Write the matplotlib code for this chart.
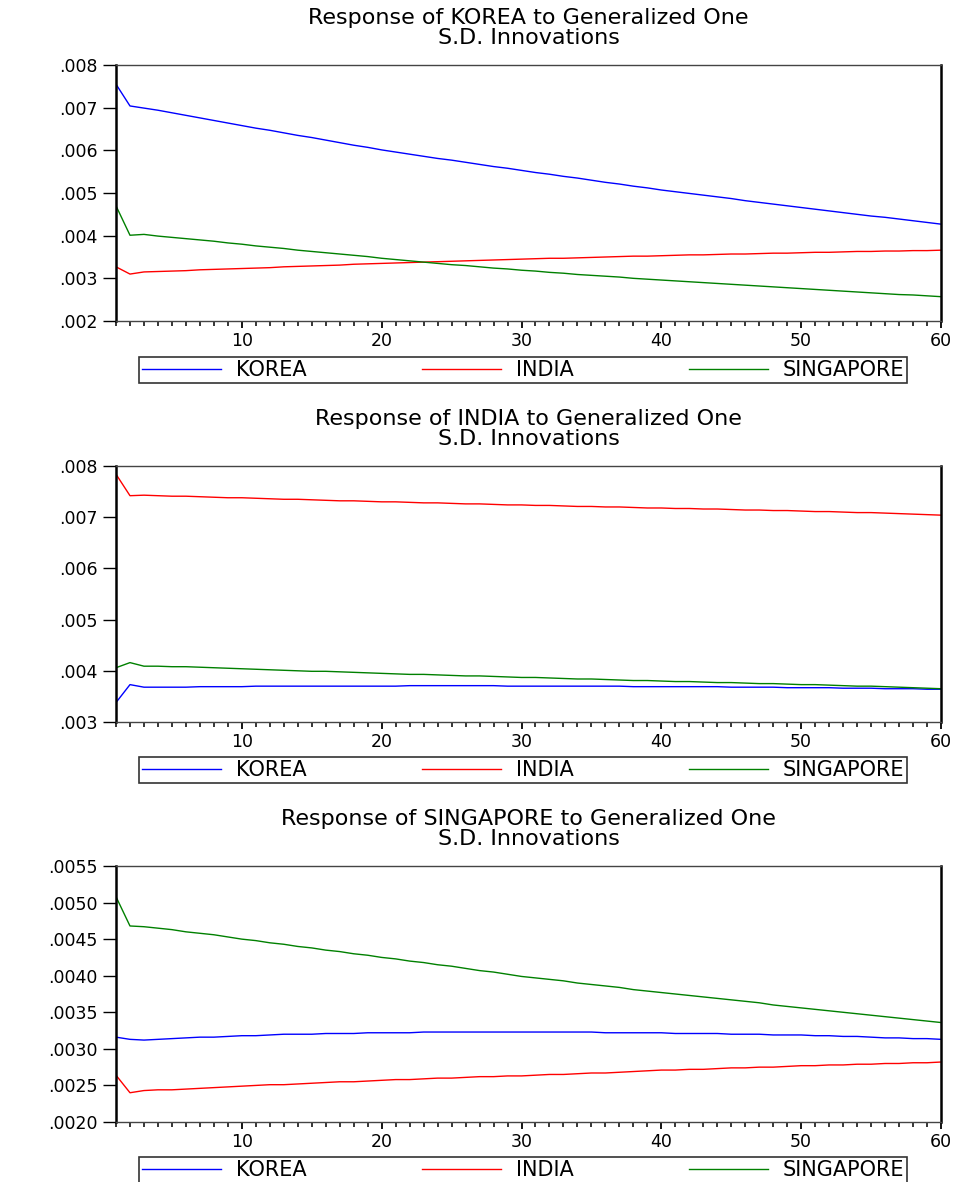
import matplotlib.pyplot as plt
from matplotlib.ticker import FuncFormatter, MultipleLocator

periods = list(range(1, 61))
names = ['KOREA', 'INDIA', 'SINGAPORE']
colors = ['#0000ff', '#ff0000', '#008000']

# response of KOREA
korea_korea = [.00755, .00704, .00699, .00694, .00688, .00682, .00676, .00670, .00664, .00658,
               .00652, .00647, .00641, .00635, .00630, .00624, .00618, .00612, .00607, .00601,
               .00596, .00591, .00586, .00581, .00577, .00572, .00567, .00562, .00558, .00553,
               .00548, .00544, .00539, .00535, .00530, .00525, .00521, .00516, .00512, .00507,
               .00503, .00499, .00495, .00491, .00487, .00482, .00478, .00474, .00470, .00466,
               .00462, .00458, .00454, .00450, .00446, .00443, .00439, .00435, .00431, .00427]
korea_india = [.00327, .00310, .00315, .00316, .00317, .00318, .00320, .00321, .00322, .00323,
               .00324, .00325, .00327, .00328, .00329, .00330, .00331, .00333, .00334, .00335,
               .00336, .00337, .00338, .00339, .00340, .00341, .00342, .00343, .00344, .00345,
               .00346, .00347, .00347, .00348, .00349, .00350, .00351, .00352, .00352, .00353,
               .00354, .00355, .00355, .00356, .00357, .00357, .00358, .00359, .00359, .00360,
               .00361, .00361, .00362, .00363, .00363, .00364, .00364, .00365, .00365, .00366]
korea_sing = [.00470, .00401, .00403, .00399, .00396, .00393, .00390, .00387, .00383, .00380,
              .00376, .00373, .00370, .00366, .00363, .00360, .00357, .00354, .00351, .00347,
              .00344, .00341, .00338, .00335, .00332, .00330, .00327, .00324, .00322, .00319,
              .00317, .00314, .00312, .00309, .00307, .00305, .00303, .00300, .00298, .00296,
              .00294, .00292, .00290, .00288, .00286, .00284, .00282, .00280, .00278, .00276,
              .00274, .00272, .00270, .00268, .00266, .00264, .00262, .00261, .00259, .00257]

# response of INDIA
india_korea = [.00338, .00373, .00368, .00368, .00368, .00368, .00369, .00369, .00369, .00369,
               .00370, .00370, .00370, .00370, .00370, .00370, .00370, .00370, .00370, .00370,
               .00370, .00371, .00371, .00371, .00371, .00371, .00371, .00371, .00370, .00370,
               .00370, .00370, .00370, .00370, .00370, .00370, .00370, .00369, .00369, .00369,
               .00369, .00369, .00369, .00369, .00368, .00368, .00368, .00368, .00367, .00367,
               .00367, .00367, .00366, .00366, .00366, .00365, .00365, .00365, .00364, .00364]
india_india = [.00784, .00742, .00743, .00742, .00741, .00741, .00740, .00739, .00738, .00738,
               .00737, .00736, .00735, .00735, .00734, .00733, .00732, .00732, .00731, .00730,
               .00730, .00729, .00728, .00728, .00727, .00726, .00726, .00725, .00724, .00724,
               .00723, .00723, .00722, .00721, .00721, .00720, .00720, .00719, .00718, .00718,
               .00717, .00717, .00716, .00716, .00715, .00714, .00714, .00713, .00713, .00712,
               .00711, .00711, .00710, .00709, .00709, .00708, .00707, .00706, .00705, .00704]
india_sing = [.00406, .00416, .00409, .00409, .00408, .00408, .00407, .00406, .00405, .00404,
              .00403, .00402, .00401, .00400, .00399, .00399, .00398, .00397, .00396, .00395,
              .00394, .00393, .00393, .00392, .00391, .00390, .00390, .00389, .00388, .00387,
              .00387, .00386, .00385, .00384, .00384, .00383, .00382, .00381, .00381, .00380,
              .00379, .00379, .00378, .00377, .00377, .00376, .00375, .00375, .00374, .00373,
              .00373, .00372, .00371, .00370, .00370, .00369, .00368, .00367, .00366, .00365]

# response of SINGAPORE
sing_korea = [.00316, .00313, .00312, .00313, .00314, .00315, .00316, .00316, .00317, .00318,
              .00318, .00319, .00320, .00320, .00320, .00321, .00321, .00321, .00322, .00322,
              .00322, .00322, .00323, .00323, .00323, .00323, .00323, .00323, .00323, .00323,
              .00323, .00323, .00323, .00323, .00323, .00322, .00322, .00322, .00322, .00322,
              .00321, .00321, .00321, .00321, .00320, .00320, .00320, .00319, .00319, .00319,
              .00318, .00318, .00317, .00317, .00316, .00315, .00315, .00314, .00314, .00313]
sing_india = [.00264, .00240, .00243, .00244, .00244, .00245, .00246, .00247, .00248, .00249,
              .00250, .00251, .00251, .00252, .00253, .00254, .00255, .00255, .00256, .00257,
              .00258, .00258, .00259, .00260, .00260, .00261, .00262, .00262, .00263, .00263,
              .00264, .00265, .00265, .00266, .00267, .00267, .00268, .00269, .00270, .00271,
              .00271, .00272, .00272, .00273, .00274, .00274, .00275, .00275, .00276, .00277,
              .00277, .00278, .00278, .00279, .00279, .00280, .00280, .00281, .00281, .00282]
sing_sing = [.00508, .00468, .00467, .00465, .00463, .00460, .00458, .00456, .00453, .00450,
             .00448, .00445, .00443, .00440, .00438, .00435, .00433, .00430, .00428, .00425,
             .00423, .00420, .00418, .00415, .00413, .00410, .00407, .00405, .00402, .00399,
             .00397, .00395, .00393, .00390, .00388, .00386, .00384, .00381, .00379, .00377,
             .00375, .00373, .00371, .00369, .00367, .00365, .00363, .00360, .00358, .00356,
             .00354, .00352, .00350, .00348, .00346, .00344, .00342, .00340, .00338, .00336]

panels = [
    ('KOREA', [korea_korea, korea_india, korea_sing], (.002, .008), .001, 3),
    ('INDIA', [india_korea, india_india, india_sing], (.003, .008), .001, 3),
    ('SINGAPORE', [sing_korea, sing_india, sing_sing], (.002, .0055), .0005, 4),
]

W, H = 967, 1182
ax_tops = [65, 466, 866]
leg_tops = [358, 758, 1158]

plt.rcParams['font.family'] = ['DejaVu Sans']


def short_fmt(decimals):
    return FuncFormatter(lambda v, pos: ('%.*f' % (decimals, v)).lstrip('0'))


def draw_panel(fig, ax_top, leg_top, panel):
    name, series, ylim, step, decimals = panel
    ax = fig.add_axes([116 / W, 1 - (ax_top + 256) / H, 825 / W, 256 / H])
    for vals, label, c in zip(series, names, colors):
        ax.plot(periods, vals, color=c, lw=1.0, label=label)
    ax.set_xlim(1, 60)
    ax.set_ylim(*ylim)
    ax.xaxis.set_major_locator(MultipleLocator(10))
    ax.xaxis.set_minor_locator(MultipleLocator(1))
    ax.yaxis.set_major_locator(MultipleLocator(step))
    ax.yaxis.set_major_formatter(short_fmt(decimals))
    ax.tick_params(axis='y', direction='out', length=9.5, width=1, pad=3.5, labelsize=12.5)
    ax.tick_params(axis='x', which='major', direction='out', length=5, width=1.3,
                   pad=3, labelsize=12.5)
    ax.tick_params(axis='x', which='minor', direction='out', length=3.5, width=1.1)
    for side in ['left', 'right']:
        ax.spines[side].set_linewidth(1.8)
        ax.spines[side].set_color('black')
    for side in ['top', 'bottom']:
        ax.spines[side].set_linewidth(1.0)
        ax.spines[side].set_color('#444444')
    fig.text((116 + 941) / 2 / W, 1 - (ax_top - 37) / H,
             'Response of %s to Generalized One\nS.D. Innovations' % name,
             ha='center', va='center', fontsize=16, linespacing=1.0)
    leg = ax.legend(loc='center', ncol=3, mode='expand', fontsize=15,
                    bbox_to_anchor=(139 / W, 1 - (leg_top + 24) / H, 768 / W, 24 / H),
                    bbox_transform=fig.transFigure, borderaxespad=0,
                    handlelength=3.8, handletextpad=0.7, borderpad=0.15,
                    fancybox=False, frameon=True)
    leg.get_frame().set_edgecolor('black')
    leg.get_frame().set_linewidth(1.2)
    return ax


if __name__ == '__main__':
    fig = plt.figure(figsize=(W / 100, H / 100), dpi=100)
    for top, ltop, panel in zip(ax_tops, leg_tops, panels):
        draw_panel(fig, top, ltop, panel)
    plt.savefig('out.png', dpi=100)
